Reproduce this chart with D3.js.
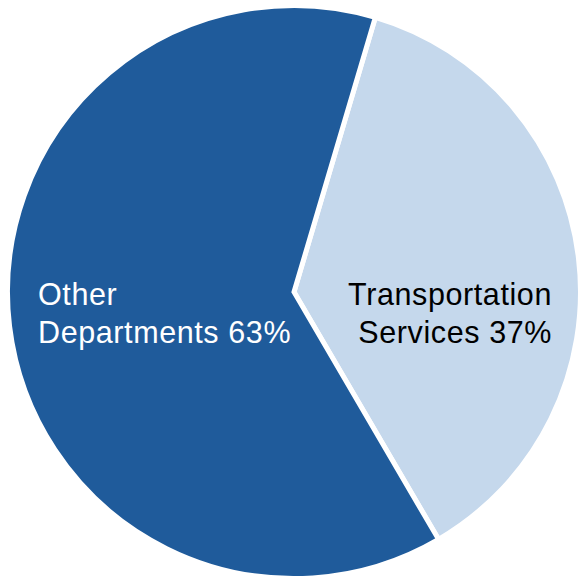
<!DOCTYPE html>
<html lang="en">
<head>
    <meta charset="UTF-8">
    <title>Pie</title>
    <style>
        body { margin: 0; background: #fff; }
        .slice { stroke: #fff; stroke-width: 5; stroke-linejoin: miter; }
        .label { font-family: "Liberation Sans", Arial, sans-serif; font-size: 30.5px; letter-spacing: 0.6px; }
    </style>
</head>
<body>
    <svg></svg>
</body>
<script src="https://d3js.org/d3.v7.min.js"></script>
<script>
    var categories = ["Transportation Services", "Other Departments"];
    var values = [37, 63];
    var labelLines = [["Transportation", "Services 37%"], ["Other", "Departments 63%"]];

    var width = 579;
    var height = 578;
    var svg = d3.select("svg")
        .attr("width", width)
        .attr("height", height);

    var g = svg.append("g")
        .attr("transform", "translate(294,292)");

    var color = d3.scaleOrdinal()
        .domain(categories)
        .range(["#c5d8ec", "#1f5b9b"]);

    var start = 16.5 * Math.PI / 180;
    var pie = d3.pie()
        .sort(null)
        .startAngle(start)
        .endAngle(start + 2 * Math.PI);

    var arc = d3.arc()
        .innerRadius(0)
        .outerRadius(286.5);

    var arcs = pie(values);

    g.selectAll(".slice")
        .data(arcs)
        .enter()
        .append("path")
        .attr("class", "slice")
        .attr("fill", (d, i) => color(categories[i]))
        .attr("d", arc);

    // labels: transportation right-aligned, other left-aligned
    var labelPos = [
        { x: 552, y: 305, anchor: "end", fill: "#000" },
        { x: 38, y: 305, anchor: "start", fill: "#fff" }
    ];

    labelLines.forEach(function (lines, i) {
        var p = labelPos[i];
        var t = svg.append("text")
            .attr("class", "label")
            .attr("text-anchor", p.anchor)
            .attr("fill", p.fill);
        lines.forEach(function (line, j) {
            t.append("tspan")
                .attr("x", p.x)
                .attr("y", p.y + j * 38)
                .text(line);
        });
    });
</script>
</html>
